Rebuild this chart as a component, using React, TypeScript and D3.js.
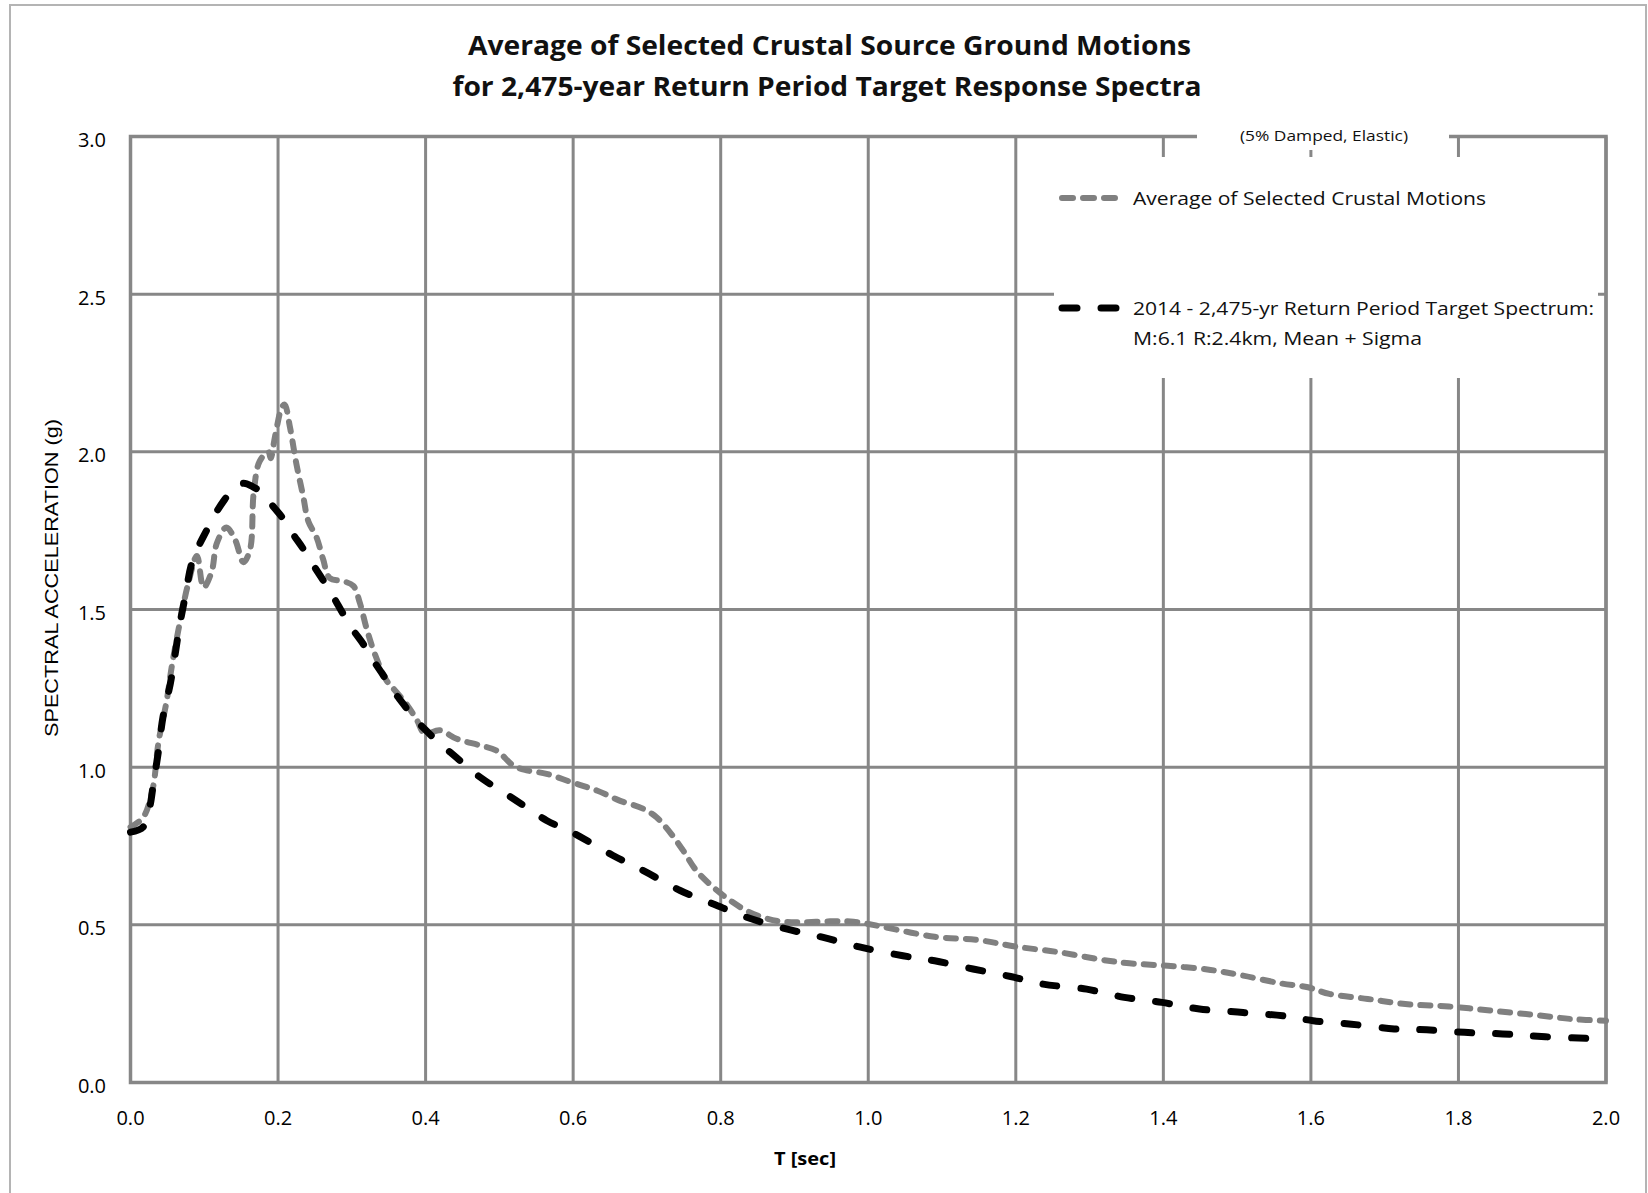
import React from "react";
import * as d3 from "d3";

const titleLines = [
  "Average of Selected Crustal Source Ground Motions",
  "for 2,475-year Return Period Target Response Spectra",
];
const subtitle = "(5% Damped, Elastic)";
const xTitle = "T [sec]";
const yTitle = "SPECTRAL ACCELERATION (g)";
const xTicks = [0, 0.2, 0.4, 0.6, 0.8, 1.0, 1.2, 1.4, 1.6, 1.8, 2.0];
const yTicks = [0, 0.5, 1.0, 1.5, 2.0, 2.5, 3.0];
const legendAvg = ["Average of Selected Crustal Motions"];
const legendTarget = [
  "2014 - 2,475-yr Return Period Target Spectrum:",
  "M:6.1 R:2.4km, Mean + Sigma",
];

// Average of Selected Crustal Motions (gray)
const avgT = [0, 0.017, 0.03, 0.038, 0.049, 0.056, 0.067, 0.078, 0.09, 0.099, 0.11, 0.117, 0.13, 0.142, 0.153, 0.162, 0.167, 0.175, 0.187, 0.19, 0.196, 0.205, 0.209, 0.216, 0.225, 0.234, 0.241, 0.252, 0.261, 0.27, 0.288, 0.302, 0.311, 0.32, 0.331, 0.347, 0.356, 0.374, 0.388, 0.399, 0.419, 0.442, 0.474, 0.496, 0.519, 0.537, 0.564, 0.598, 0.632, 0.663, 0.695, 0.713, 0.731, 0.749, 0.767, 0.79, 0.813, 0.835, 0.857, 0.88, 0.907, 0.948, 0.98, 1.017, 1.09, 1.149, 1.2, 1.259, 1.317, 1.354, 1.406, 1.464, 1.508, 1.56, 1.596, 1.625, 1.677, 1.728, 1.787, 1.845, 1.904, 1.955, 2.0];
const avgSa = [0.81, 0.84, 0.93, 1.08, 1.21, 1.32, 1.46, 1.58, 1.67, 1.57, 1.62, 1.71, 1.76, 1.72, 1.65, 1.69, 1.87, 1.97, 2.0, 1.98, 2.05, 2.14, 2.15, 2.08, 1.96, 1.86, 1.78, 1.73, 1.66, 1.6, 1.59, 1.575, 1.52, 1.44, 1.36, 1.275, 1.25, 1.2, 1.15, 1.106, 1.117, 1.09, 1.069, 1.053, 1.005, 0.99, 0.979, 0.952, 0.926, 0.894, 0.868, 0.841, 0.794, 0.736, 0.672, 0.619, 0.577, 0.545, 0.524, 0.511, 0.508, 0.511, 0.51, 0.495, 0.462, 0.452, 0.431, 0.413, 0.389, 0.378, 0.37, 0.357, 0.339, 0.314, 0.302, 0.281, 0.265, 0.249, 0.241, 0.228, 0.214, 0.201, 0.196];

// 2014 target spectrum (black)
const tgtT = [0, 0.017, 0.026, 0.031, 0.038, 0.044, 0.054, 0.06, 0.067, 0.074, 0.083, 0.094, 0.103, 0.114, 0.128, 0.139, 0.153, 0.166, 0.18, 0.194, 0.205, 0.22, 0.234, 0.248, 0.261, 0.275, 0.288, 0.302, 0.315, 0.329, 0.343, 0.356, 0.37, 0.383, 0.399, 0.41, 0.428, 0.442, 0.474, 0.519, 0.564, 0.598, 0.654, 0.699, 0.745, 0.79, 0.835, 0.889, 0.939, 0.988, 1.047, 1.09, 1.142, 1.193, 1.237, 1.296, 1.347, 1.398, 1.449, 1.508, 1.567, 1.603, 1.655, 1.713, 1.757, 1.808, 1.86, 1.918, 2.0];
const tgtSa = [0.794, 0.81, 0.873, 0.947, 1.053, 1.159, 1.265, 1.35, 1.455, 1.54, 1.646, 1.709, 1.75, 1.8, 1.85, 1.884, 1.9, 1.889, 1.868, 1.825, 1.794, 1.74, 1.693, 1.64, 1.593, 1.54, 1.487, 1.434, 1.392, 1.339, 1.29, 1.243, 1.2, 1.159, 1.12, 1.095, 1.058, 1.03, 0.968, 0.9, 0.831, 0.794, 0.72, 0.667, 0.609, 0.566, 0.524, 0.487, 0.46, 0.43, 0.402, 0.386, 0.36, 0.336, 0.312, 0.296, 0.27, 0.254, 0.233, 0.222, 0.21, 0.196, 0.185, 0.17, 0.167, 0.159, 0.154, 0.145, 0.138];

const W = 1648;
const H = 1193;
const grid = "#878787";
const grayLine = "#808080";

export default function App() {
  const x = d3.scaleLinear().domain([0, 2]).range([130.5, 1606]);
  const y = d3.scaleLinear().domain([0, 3]).range([1082.5, 136.5]);
  const line = d3
    .line<[number, number]>()
    .x((d) => x(d[0]))
    .y((d) => y(d[1]))
    .curve(d3.curveCatmullRom.alpha(0.5));
  const avgPts = avgT.map((t, i) => [t, avgSa[i]] as [number, number]);
  const tgtPts = tgtT.map((t, i) => [t, tgtSa[i]] as [number, number]);
  const tickFmt = d3.format(".1f");
  const sans = "'Open Sans', 'DejaVu Sans', sans-serif";

  return (
    <svg
      width={W}
      height={H}
      style={{ position: "absolute", left: 0, top: 0, display: "block", background: "#fff" }}
    >
      <rect x={0} y={0} width={W} height={H} fill="#fff" />
      {/* outer chart frame */}
      <rect x={10} y={5} width={1636} height={1200} fill="none" stroke="#b4b4b4" strokeWidth={2} />

      {/* title */}
      <text x={829.5} y={55} textAnchor="middle" fontFamily={sans} fontWeight="bold" fontSize={26} fill="#111"
        textLength={723} lengthAdjust="spacingAndGlyphs">{titleLines[0]}</text>
      <text x={827} y={96} textAnchor="middle" fontFamily={sans} fontWeight="bold" fontSize={26} fill="#111"
        textLength={749} lengthAdjust="spacingAndGlyphs">{titleLines[1]}</text>

      {/* gridlines */}
      {xTicks.map((t) => (
        <line key={"gx" + t} x1={x(t)} x2={x(t)} y1={y(3)} y2={y(0)} stroke={grid} strokeWidth={3} />
      ))}
      {yTicks.map((v) => (
        <line key={"gy" + v} x1={x(0)} x2={x(2)} y1={y(v)} y2={y(v)} stroke={grid} strokeWidth={3} />
      ))}
      {/* plot border */}
      <rect x={x(0)} y={y(3)} width={x(2) - x(0)} height={y(0) - y(3)} fill="none" stroke={grid} strokeWidth={3.5} />

      {/* legend boxes */}
      <rect x={1197} y={118} width={252} height={32} fill="#fff" />
      <rect x={1054} y={157} width={544} height={221} fill="#fff" />
      <text x={1324} y={141} textAnchor="middle" fontFamily={sans} fontSize={15} fill="#111"
        textLength={168} lengthAdjust="spacingAndGlyphs">{subtitle}</text>

      <line x1={1062} x2={1117} y1={198} y2={198} stroke={grayLine} strokeWidth={6}
        strokeDasharray="11 10" strokeLinecap="round" />
      <text x={1133} y={205} fontFamily={sans} fontSize={19} fill="#111"
        textLength={353} lengthAdjust="spacingAndGlyphs">{legendAvg[0]}</text>

      <line x1={1062} x2={1117} y1={308} y2={308} stroke="#000" strokeWidth={7}
        strokeDasharray="15 24" strokeLinecap="round" />
      <text x={1133} y={315} fontFamily={sans} fontSize={19} fill="#111"
        textLength={461} lengthAdjust="spacingAndGlyphs">{legendTarget[0]}</text>
      <text x={1133} y={345} fontFamily={sans} fontSize={19} fill="#111"
        textLength={289} lengthAdjust="spacingAndGlyphs">{legendTarget[1]}</text>

      {/* series */}
      <path d={line(avgPts) || ""} fill="none" stroke={grayLine} strokeWidth={6}
        strokeDasharray="10 10" strokeLinecap="round" strokeLinejoin="round" />
      <path d={line(tgtPts) || ""} fill="none" stroke="#000" strokeWidth={7}
        strokeDasharray="14 24" strokeLinecap="round" strokeLinejoin="round" />

      {/* y tick labels */}
      {yTicks.map((v) => (
        <text key={"ty" + v} x={106} y={y(v) + 3} textAnchor="end" dominantBaseline="central"
          fontFamily={sans} fontSize={20} fill="#000">{tickFmt(v)}</text>
      ))}
      {/* x tick labels */}
      {xTicks.map((t) => (
        <text key={"tx" + t} x={x(t)} y={1117} textAnchor="middle" dominantBaseline="central"
          fontFamily={sans} fontSize={20} fill="#000">{tickFmt(t)}</text>
      ))}

      {/* axis titles */}
      <text x={805} y={1165} textAnchor="middle" fontFamily={sans} fontWeight="bold" fontSize={18} fill="#000"
        textLength={62} lengthAdjust="spacingAndGlyphs">{xTitle}</text>
      <text transform="translate(58,578) rotate(-90)" textAnchor="middle" fontFamily="'Liberation Sans', Arial, sans-serif"
        fontSize={18.5} fill="#000" textLength={318} lengthAdjust="spacingAndGlyphs">{yTitle}</text>
    </svg>
  );
}
